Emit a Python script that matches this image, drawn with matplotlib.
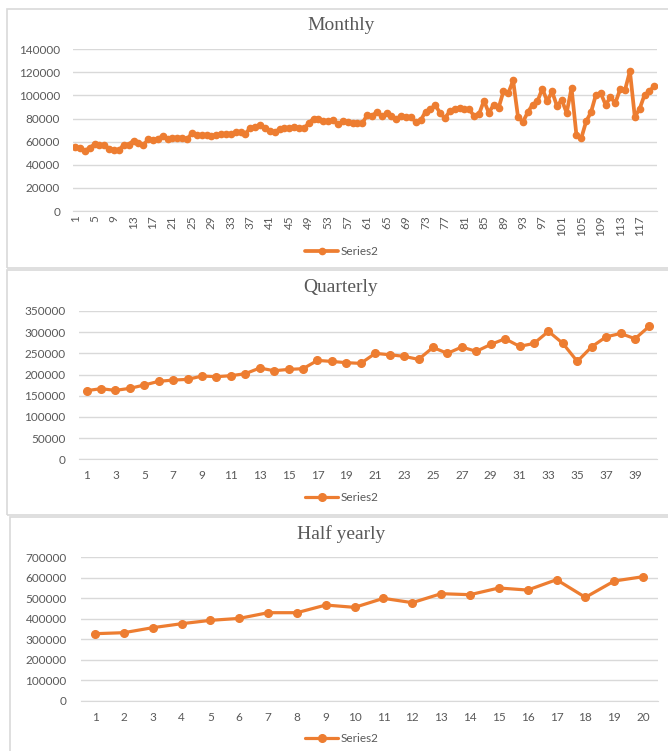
import matplotlib
matplotlib.use('Agg')
import matplotlib.pyplot as plt
from matplotlib.patches import Rectangle

# monthly series (120 months)
monthly = [55000, 54800, 52000, 54800, 57700, 57000, 57000, 54000, 53000, 52500,
           57500, 57500, 61000, 59000, 57000, 62000, 61500, 62500, 65000, 62000,
           63500, 63500, 63500, 62000, 67500, 65500, 65500, 66000, 65000, 65500,
           66400, 67000, 67000, 68000, 68000, 67000, 72000, 73000, 74500, 71500,
           69500, 68000, 71000, 71500, 72000, 72500, 72000, 71500, 76000, 80000,
           80000, 78000, 78000, 78500, 75000, 77500, 77000, 76000, 76000, 76000,
           83000, 82500, 85500, 82000, 84500, 82500, 79700, 82500, 81500, 81500,
           77000, 78500, 86000, 88000, 92000, 84500, 80500, 86500, 88000, 89500,
           88500, 88000, 82000, 84000, 95500, 85000, 92000, 89000, 103500, 102000,
           113000, 81500, 77000, 85500, 92000, 95000, 106000, 95000, 103500, 91000,
           96000, 85000, 106500, 66000, 63000, 77500, 85500, 100500, 102000, 92000,
           98500, 93500, 105500, 105000, 121000, 81500, 88500, 100500, 103500, 108500]

# quarterly series (40 quarters)
quarterly = [162000, 166600, 162700, 167400, 175300, 184000, 187000, 188600, 196500, 195000,
             197300, 202000, 215400, 209000, 212200, 213800, 233400, 231000, 228000, 226400,
             250000, 246800, 243000, 235800, 264000, 250000, 265000, 254700, 271000, 284500,
             266500, 273500, 302000, 273500, 231000, 265700, 289000, 297000, 284500, 314400]

# half yearly series (20 halves)
half_yearly = [326400, 331300, 355700, 375000, 391400, 401000, 428700, 428700, 466000, 454700,
               498600, 477500, 521300, 516400, 549000, 539000, 589500, 503400, 583000, 604100]

titles = ['Monthly', 'Quarterly', 'Half yearly']
series_name = 'Series2'

W, H = 668, 751
ORANGE = '#ED7D31'
GRID = '#d9d9d9'
TXT = '#595959'

plt.rcParams['font.family'] = ['Lato', 'DejaVu Sans']

fig = plt.figure(figsize=(W / 100, H / 100), dpi=100)


def rect(l, r, top, bot):
    return [l / W, 1 - bot / H, (r - l) / W, (bot - top) / H]


def box(x0, y0, x1, y1):
    fig.patches.append(Rectangle((x0 / W, 1 - y1 / H), (x1 - x0) / W, (y1 - y0) / H,
                                 transform=fig.transFigure, fill=False,
                                 edgecolor=GRID, linewidth=1.2))


box(7, 9, 672, 268)
box(7, 270, 672, 515)
box(10, 517, 672, 760)

panels = [
    (monthly, rect(72.7, 656.7, 49.3, 211), 140000, 20000, 4, 2.7, 4.5, 25, 252),
    (quarterly, rect(79.3, 656.7, 311, 459.3), 350000, 50000, 2, 2.3, 5.5, 288, 498),
    (half_yearly, rect(80.6, 657.5, 557, 700.7), 700000, 100000, 1, 2.3, 5.5, 534, 739),
]

for k, (vals, pos, ymax, ystep, xstep, lw, ms, ty, ly) in enumerate(panels):
    ax = fig.add_axes(pos)
    xs = list(range(1, len(vals) + 1))
    line, = ax.plot(xs, vals, color=ORANGE, lw=lw, marker='o', ms=ms,
                    solid_capstyle='round', label=series_name)
    ax.set_xlim(0.5, len(vals) + 0.5)
    ax.set_ylim(0, ymax)
    ax.set_yticks(list(range(0, ymax + 1, ystep)))
    ax.set_xticks(xs[::xstep])
    if k == 0:
        ax.set_xticklabels([str(x) for x in xs[::xstep]], rotation=90)
        ax.tick_params(axis='x', pad=3)
    else:
        ax.tick_params(axis='x', pad=8)
    ax.tick_params(axis='y', pad=9 if k == 0 else 10)
    ax.tick_params(length=0, labelsize=8.5, labelcolor=TXT)
    ax.grid(axis='y', color=GRID, lw=1)
    ax.set_axisbelow(True)
    for s in ['top', 'right', 'left']:
        ax.spines[s].set_visible(False)
    ax.spines['bottom'].set_color(GRID)
    ax.set_facecolor('none')

    fig.text(341 / W, 1 - ty / H, titles[k], ha='center', va='center',
             family='Liberation Serif', fontsize=14, color=TXT)
    fig.legend(handles=[line], loc='center', bbox_to_anchor=(342 / W, 1 - ly / H),
               frameon=False, fontsize=8.5, labelcolor=TXT, handlelength=2.8,
               handletextpad=0.2, borderpad=0)

fig.savefig('out.png', dpi=100)
